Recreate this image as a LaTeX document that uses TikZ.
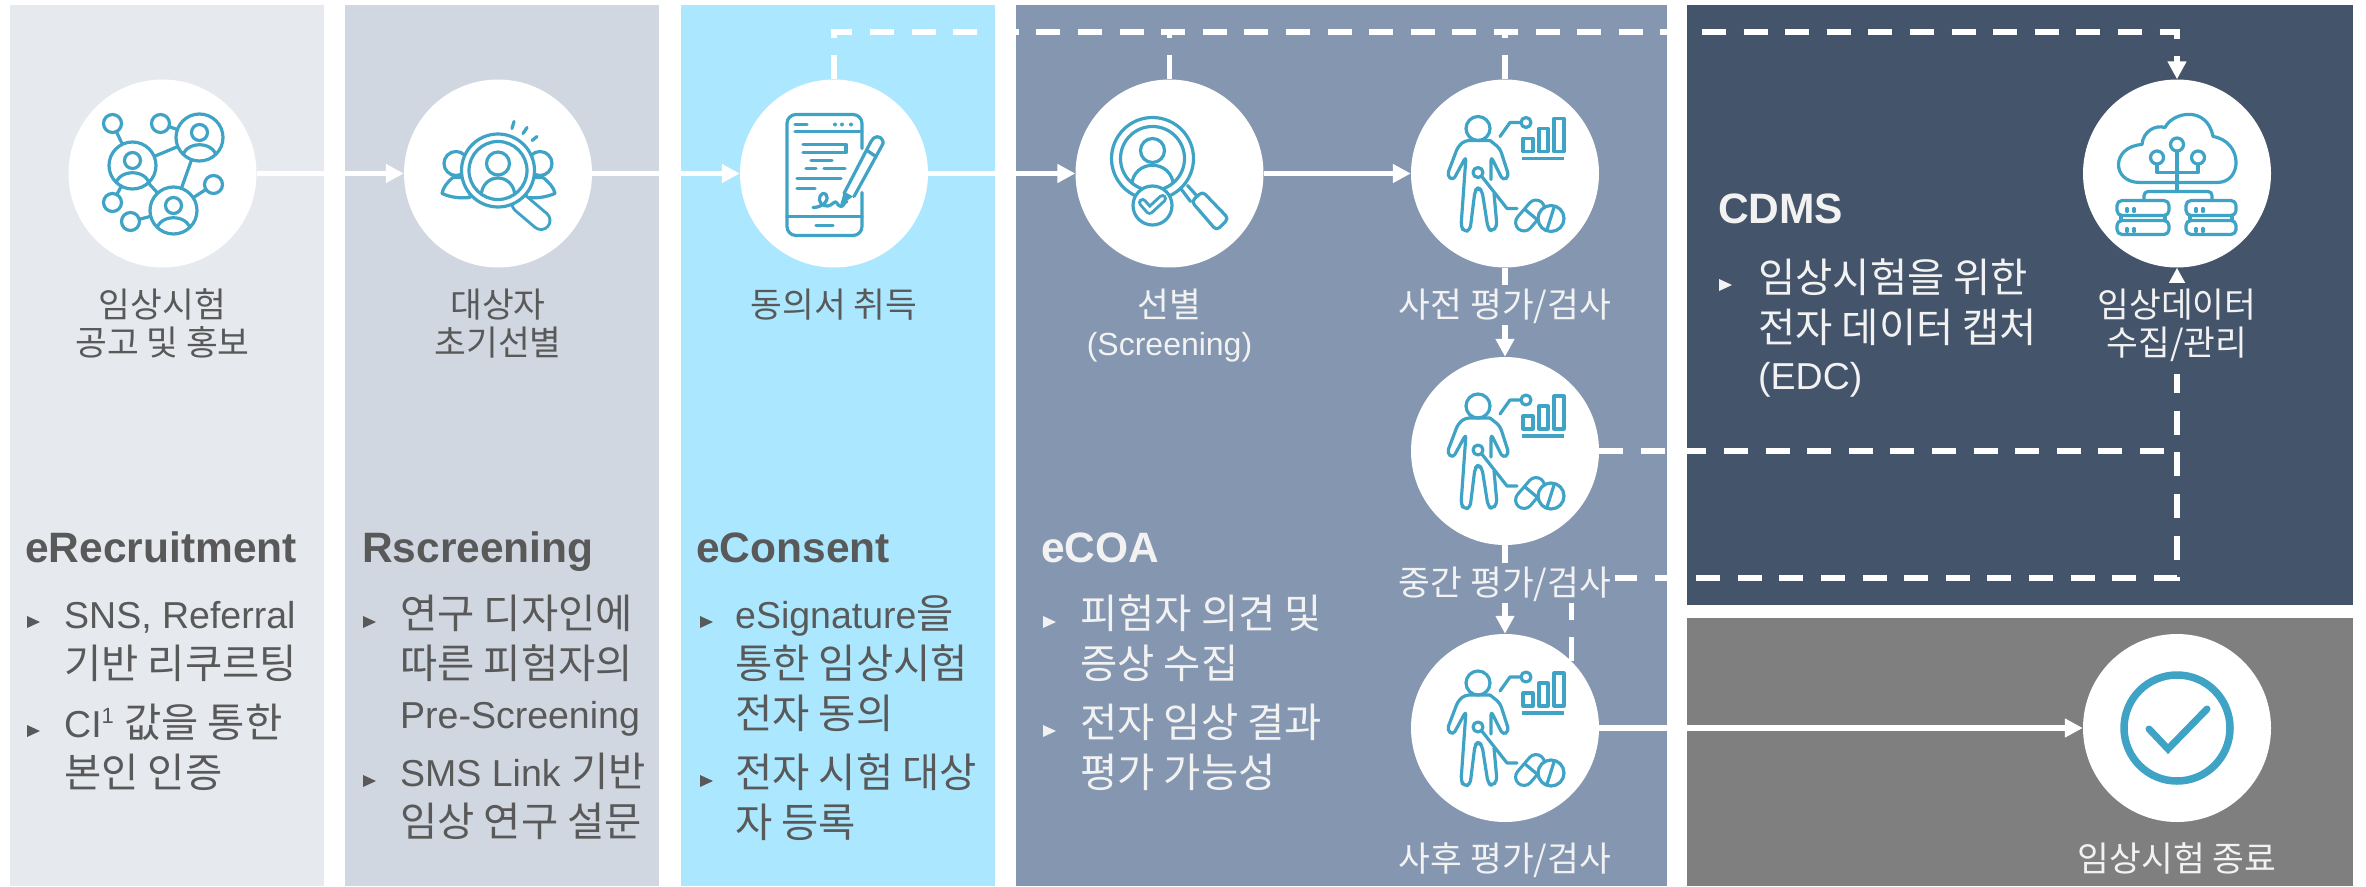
\documentclass[tikz,border=0pt]{standalone}
\usepackage{fontspec}
\setmainfont{Liberation Sans}
\newfontfamily\cjk[Scale=1.08]{Noto Sans CJK KR}
\usetikzlibrary{arrows.meta,calc}
\newcommand{\K}[1]{{\cjk #1}}
\newcommand{\firstlab}{\rule{0pt}{30pt}}
\newcommand{\firstbody}{\rule{0pt}{40pt}}
\definecolor{pa}{HTML}{E6E9EE}
\definecolor{pb}{HTML}{D0D7E1}
\definecolor{pc}{HTML}{ABE8FF}
\definecolor{pd}{HTML}{8496B0}
\definecolor{pe}{HTML}{44546A}
\definecolor{pf}{HTML}{7F7F7F}
\definecolor{ink}{HTML}{595959}
\definecolor{teal}{HTML}{3FA3C6}
\definecolor{pale}{HTML}{F2F2F2}
\tikzset{
  x=1pt,y=-1pt,
  panel/.style={draw=none},
  circ/.style={circle,fill=white,draw=none,minimum size=188pt,inner sep=0pt},
  solidline/.style={draw=white,line width=5.5pt},
  arrowline/.style={solidline,-{Triangle[length=18pt,width=18pt]}},
  dashline/.style={solidline,dash pattern=on 24pt off 17.6pt},
  dasharrow/.style={dashline,-{Triangle[length=18pt,width=18pt]}},
  lab/.style={anchor=north,align=center,inner sep=0pt,text=ink,font=\fontsize{32}{38}\selectfont},
  labw/.style={lab,text=pale},
  head/.style={anchor=base west,inner sep=0pt,text=ink,font=\bfseries\fontsize{42.5}{50}\selectfont},
  headw/.style={head,text=pale},
  body/.style={anchor=north west,align=left,inner sep=0pt,text=ink,font=\fontsize{37.5}{50}\selectfont},
  bodyw/.style={body,text=pale},
  ic/.style={draw=teal,line width=3.2pt,line join=round,line cap=round},
  icf/.style={ic,fill=white},
  icnet/.pic={
    \draw[ic] (-50,-50)--(-30,-8) (-2,-50)--(37,-36) (-30,-8)--(37,-36)--(11,37)--(-30,-8)
      (51,11)--(11,37) (-50,29)--(-30,-8) (-32,48)--(11,37);
    \foreach \a/\b in {-50/-50,-2/-50,51/11,-50/29,-32/48}{\draw[icf] (\a,\b) circle (9);}
    \foreach \a/\b in {-30/-8,37/-36,11/37}{
      \draw[icf] (\a,\b) circle (23.5);
      \begin{scope}[shift={(\a,\b)}]
        \clip (0,0) circle (23.5);
        \draw[ic] (0,-5) circle (8);
        \draw[ic] (-17,20) .. controls (-15,3) and (15,3) .. (17,20);
      \end{scope}
    }
  },
  icsearch/.pic={
    \draw[ic] (-42,-10) circle (12) (42,-10) circle (12);
    \draw[icf] (-45,4) .. controls (-51,9) and (-55,14) .. (-56,20) .. controls (-47,24) and (-38,25) .. (-28,24) -- (-28,4) -- cycle;
    \draw[icf] (45,4) .. controls (51,9) and (56,14) .. (57,20) .. controls (47,24) and (38,25) .. (28,24) -- (28,4) -- cycle;
    \draw[draw=teal,line width=21pt,line cap=round] (23,30)--(43,47);
    \draw[draw=white,line width=15pt,line cap=round] (23,30)--(43,47);
    \draw[icf] (0,-3) circle (36.5);
    \draw[icf] (0,-3) circle (29);
    \begin{scope}
      \clip (0,-3) circle (29);
      \draw[ic] (-17,24) .. controls (-17,-2) and (17,-2) .. (17,24);
    \end{scope}
    \draw[icf] (0,-10) circle (11.5);
    \draw[ic] (16,-52)--(14,-45) (29,-46)--(25,-40) (39,-37)--(34,-33);
  },
  icphone/.pic={
    \draw[ic,rounded corners=9pt] (28,-25)--(28,-59)--(-47,-59)--(-47,62)--(28,62)--(28,19);
    \draw[ic] (-39,-42)--(28,-42) (-47,43)--(28,43) (-18,52)--(-1,52)
      (-39,-49)--(-27,-49) (-31,-29)--(12,-29)--(12,-21)--(-31,-21) (-23,-13)--(-2,-13)
      (-28,-5)--(-18,-5) (-10,-5)--(11,-5) (-37,5)--(7,5) (-37,15)--(-19,15);
    \foreach \a in {1,8,17}{\fill[teal] (\a,-49) circle (2);}
    \draw[ic] (-21,34) .. controls (-10,34) and (-4,25) .. (-8,21) .. controls (-13,17) and (-17,26) .. (-13,30)
      .. controls (-9,34) and (-4,33) .. (0,29) .. controls (3,26) and (3,33) .. (7,33) .. controls (10,33) and (10,28) .. (13,28);
    \draw[icf] (10,20)--(37,-32) .. controls (40,-38) and (46,-38) .. (48,-34) .. controls (50,-31) and (49,-29) .. (48,-28)--(20,23);
    \fill[teal] (10,18)--(19,23)--(6,32)--cycle;
    \draw[ic] (33,-23)--(42,-17);
  },
  iccheckglass/.pic={
    \draw[ic] (12,16)--(21,28) (18,12)--(27,22);
    \draw[icf,rounded corners=4pt] (22,28)--(33,18)--(59,45)--(47,57)--cycle;
    \draw[icf] (-17,-15) circle (41);
    \draw[icf] (-17,-15) circle (32);
    \begin{scope}
      \clip (-17,-15) circle (32);
      \draw[ic] (-38,12) .. controls (-36,-15) and (2,-15) .. (4,12);
    \end{scope}
    \draw[icf] (-17,-23) circle (12);
    \draw[icf] (-17,32) circle (19.5);
    \draw[draw=teal,line width=9pt,line cap=round,line join=round] (-27,29)--(-20,37)--(-7,25);
    \draw[draw=white,line width=3pt,line cap=round,line join=round] (-27,29)--(-20,37)--(-7,25);
  },
  icperson/.pic={
    \draw[ic] (-27,-45) circle (12);
    \draw[ic,rounded corners=4pt] (-15,-33)--(-40,-33)--(-47,-27)--(-58,2)--(-52,7)--(-39,-17)--(-44,53)
      --(-41,58)--(-35,57)--(-30,17)--(-27,14)--(-23,17)--(-17,55)--(-13,58)--(-8,53)--(-11,20);
    \draw[ic,rounded corners=4pt] (-14,6)--(-14,-17)--(-2,7)--(4,3)--(-5,-25)--(-15,-33);
    \draw[ic] (-24,2)--(2,35)--(12,35);
    \draw[icf] (-27,-1) circle (5);
    \draw[ic] (-5,-37)--(5,-51)--(16,-51);
    \draw[icf] (21,-51) circle (5);
    \draw[ic] (18,-35) rectangle (28,-22) (34,-45) rectangle (43,-22) (49,-55) rectangle (59,-22);
    \draw[draw=teal,line width=3.5pt] (17,-15)--(59,-15);
    \draw[draw=teal,line width=20pt,line cap=round] (19,49)--(31,35);
    \draw[draw=white,line width=13.6pt,line cap=round] (19,49)--(31,35);
    \draw[ic] (20,36)--(32,46);
    \draw[icf] (46,45) circle (13);
    \draw[ic] (42,56)--(49,34);
  },
  iccloud/.pic={
    \draw[ic] (-37,9) .. controls (-66,9) and (-66,-27) .. (-35,-29)
      .. controls (-34,-42) and (-22,-49) .. (-12,-46)
      .. controls (-4,-62) and (30,-68) .. (36,-37)
      .. controls (66,-32) and (66,9) .. (40,9) -- cycle;
    \draw[ic] (0,-22)--(0,17) (-20,-9)--(-20,-1)--(21,-1)--(21,-9);
    \draw[ic,rounded corners=4pt] (-33,26)--(-33,18)--(35,18)--(35,26);
    \foreach \a/\b in {0/-29,-20/-16,21/-16}{\draw[icf] (\a,\b) circle (6.5);}
    \foreach \l/\r in {-60/-8,9/59}{
      \draw[ic,rounded corners=5pt] (\l,27) rectangle (\r,42);
      \draw[ic,rounded corners=5pt] (\l,47) rectangle (\r,61);
      \draw[ic] ({\l+4},42)--({\l+4},47) ({\r-4},42)--({\r-4},47);
      \draw[ic] ({\l+10},35)--({\l+10},38) ({\l+17},35)--({\l+17},38) ({\l+10},55)--({\l+10},58) ({\l+17},55)--({\l+17},58);
    }
  },
  icdone/.pic={
    \draw[draw=teal,line width=7.5pt] (0,0) circle (53);
    \draw[draw=teal,line width=7pt,line cap=round,miter limit=10] (-28,1)--(-9,21)--(30,-19);
  },
}
\newcommand{\bul}[3]{\fill[#3] (#1,#2-6) -- (#1+13,#2) -- (#1,#2+6) -- cycle;}
\begin{document}
\begin{tikzpicture}
\useasboundingbox (0,0) rectangle (2366,886);
\fill[white] (0,0) rectangle (2366,886);
\fill[pa,panel] (10,5) rectangle (324,886);
\fill[pb,panel] (345,5) rectangle (659,886);
\fill[pc,panel] (681,5) rectangle (995,886);
\fill[pd,panel] (1016,5) rectangle (1667,886);
\fill[pe,panel] (1687,5) rectangle (2353,605);
\fill[pf,panel] (1687,618) rectangle (2353,886);
% circles
\node[circ] (c1) at (162.5,173.5) {};
\node[circ] (c2) at (498,173.5) {};
\node[circ] (c3) at (834,173.5) {};
\node[circ] (c4) at (1169.5,173.5) {};
\node[circ] (c5) at (1505,173.5) {};
\node[circ] (c6) at (1505,451) {};
\node[circ] (c7) at (1505,728) {};
\node[circ] (d) at (2177,173.5) {};
\node[circ] (e) at (2177,728) {};
\coordinate (topr) at (2177,32);
\coordinate (lowr) at (2177,578);
% connectors
\draw[arrowline] (c1) -- (c2);
\draw[arrowline] (c2) -- (c3);
\draw[arrowline] (c3) -- (c4);
\draw[arrowline] (c4) -- (c5);
\draw[arrowline] (c5) -- (c6);
\draw[arrowline] (c6) -- (c7);
\draw[arrowline] (c7) -- (e);
\draw[dasharrow] (c3.north) |- (topr) -- (d.north);
\draw[dashline] (c4.north) -- (c4.north |- topr);
\draw[dashline] (c5.north) -- (c5.north |- topr);
\draw[dashline] (c6.east) -- (c6.east -| d.south);
\draw[dasharrow] (c7.45) |- (lowr) -- (d.south);
% icons
\pic at (c1) {icnet};
\pic at (c2) {icsearch};
\pic at (c3) {icphone};
\pic at (c4) {iccheckglass};
\pic at (c5) {icperson};
\pic at (c6) {icperson};
\pic at (c7) {icperson};
\pic at (d) {iccloud};
\pic at (e) {icdone};
% labels
\node[lab] (l1) at (162.5,287) {\firstlab\K{임상시험}\\\K{공고 및 홍보}};
\node[lab] (l2) at (498,287) {\firstlab\K{대상자}\\\K{초기선별}};
\node[lab] (l3) at (834,287) {\firstlab\K{동의서 취득}};
\node[labw] (l4) at (1169.5,287) {\firstlab\K{선별}\\(Screening)};
\node[labw,fill=pd,inner xsep=4pt,inner ysep=2pt] (l5) at (1505,285) {\firstlab\K{사전 평가/검사}\rule[-6pt]{0pt}{6pt}};
\node[labw,fill=pd,inner xsep=4pt,inner ysep=2pt] (l6) at (1505,563) {\firstlab\K{중간 평가/검사}\rule[-6pt]{0pt}{6pt}};
\node[labw] (l7) at (1505,841) {\firstlab\K{사후 평가/검사}};
\node[labw,fill=pe,inner xsep=2pt,inner ysep=4pt] (l8) at (2177,283) {\firstlab\K{임상데이터}\\\K{수집/관리}\rule[-15pt]{0pt}{15pt}};
\node[labw] (l9) at (2177,841) {\firstlab\K{임상시험 종료}};
% panel 1
\node[head] (h1) at (25,562) {eRecruitment};
\bul{27}{622}{ink}
\node[body] (b1a) at (64,588) {\firstbody SNS, Referral\\\K{기반 리쿠르팅}};
\bul{27}{731}{ink}
\node[body] (b1b) at (64,697) {\firstbody CI\raisebox{14pt}{\fontsize{22}{22}\selectfont 1} \K{값을 통한}\\\K{본인 인증}};
% panel 2
\node[head] (h2) at (362,562) {Rscreening};
\bul{363}{622}{ink}
\node[body] (b2a) at (400,588) {\firstbody\K{연구 디자인에}\\\K{따른 피험자의}\\Pre-Screening};
\bul{363}{781}{ink}
\node[body] (b2b) at (400,746) {\firstbody SMS Link \K{기반}\\\K{임상 연구 설문}};
% panel 3
\node[head] (h3) at (696,562) {eConsent};
\bul{700}{622}{ink}
\node[body] (b3a) at (735,588) {\firstbody eSignature\K{을}\\\K{통한 임상시험}\\\K{전자 동의}};
\bul{700}{781}{ink}
\node[body] (b3b) at (735,747) {\firstbody\K{전자 시험 대상}\\\K{자 등록}};
% panel 4
\node[headw] (h4) at (1041,562) {eCOA};
\bul{1043}{622}{pale}
\node[bodyw] (b4a) at (1080,588) {\firstbody\K{피험자 의견 및}\\\K{증상 수집}};
\bul{1043}{731}{pale}
\node[bodyw] (b4b) at (1080,697) {\firstbody\K{전자 임상 결과}\\\K{평가 가능성}};
% panel 5
\node[headw] (h5) at (1718,223) {CDMS};
\bul{1719}{285}{pale}
\node[bodyw] (b5) at (1758,252) {\firstbody\K{임상시험을 위한}\\\K{전자 데이터 캡처}\\[-3pt](EDC)};
\end{tikzpicture}
\end{document}
